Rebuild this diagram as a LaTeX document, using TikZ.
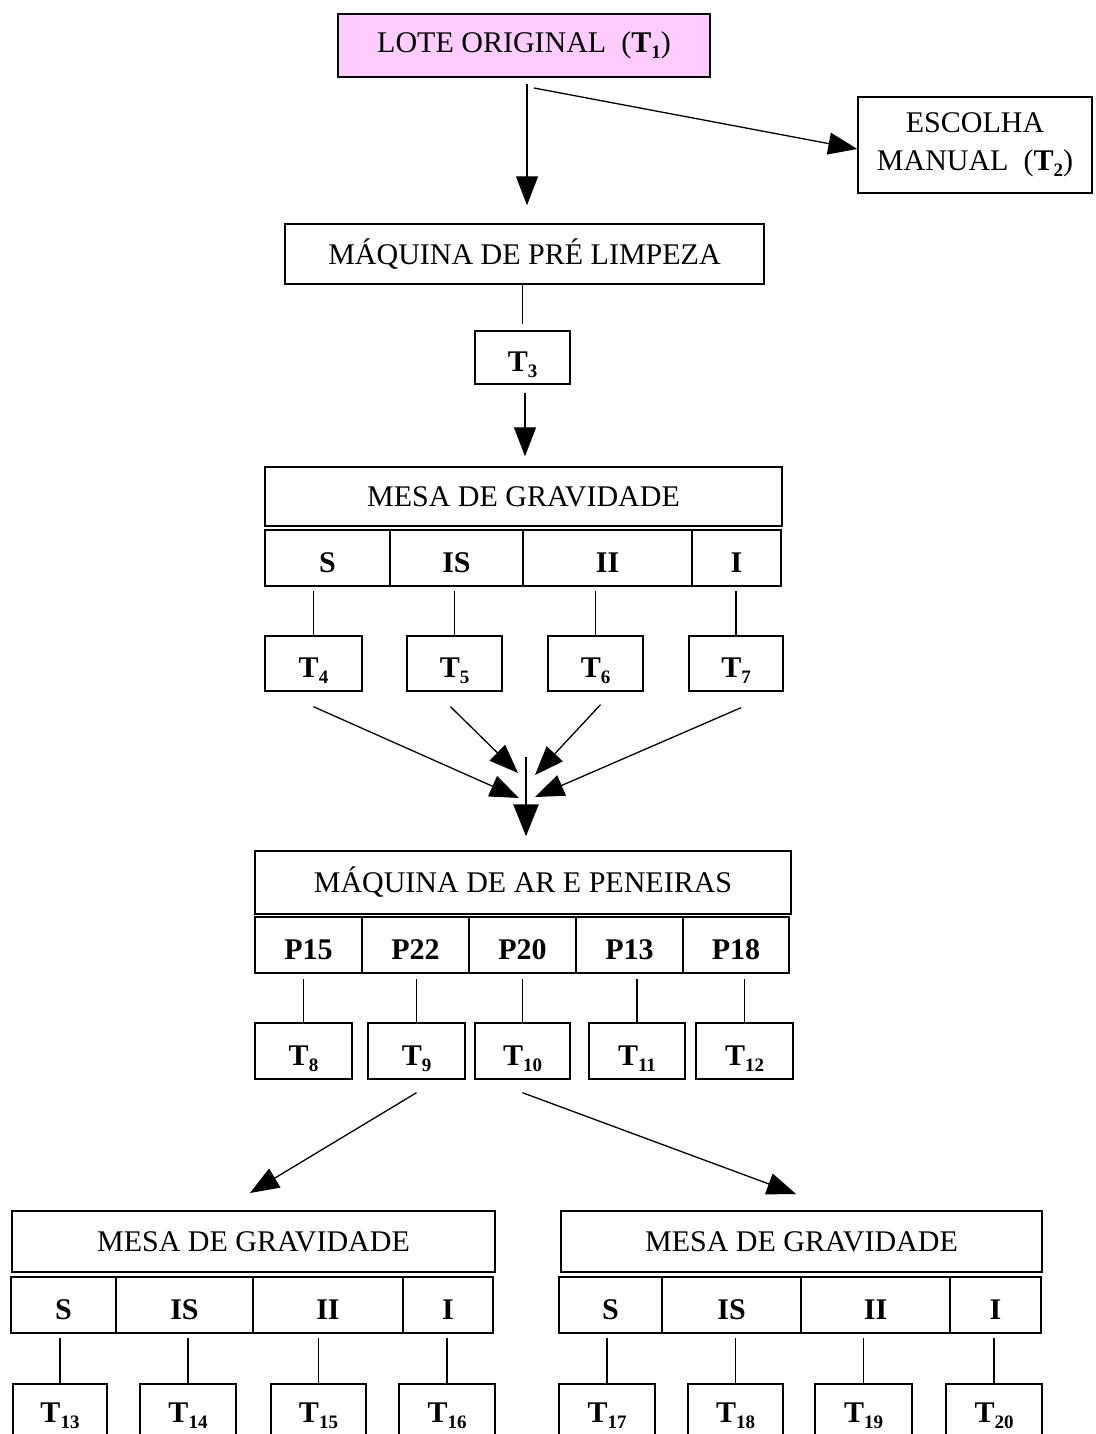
\documentclass[tikz,border=0pt]{standalone}
\usepackage{fontspec}
\setmainfont{Liberation Serif}
\usetikzlibrary{arrows.meta,calc}
\definecolor{lotepink}{RGB}{255,204,255}
\newcommand{\tsub}[1]{\textbf{T}\raisebox{-0.2em}{\fontsize{19}{19}\selectfont\textbf{#1}}}
\newcommand{\bx}[7][box]{\node[#1, minimum width={#4-#2}, minimum height={#5-#3}] (#7) at ({(#2+#4)/2},{(#3+#5)/2}) {#6};}
\begin{document}
\begin{tikzpicture}[x=1pt,y=-1pt,
  box/.style={draw, line width=1.4pt, inner sep=0pt, align=center, font=\fontsize{30}{38}\selectfont},
  bbox/.style={box, font=\fontsize{30}{38}\selectfont\bfseries, text height=28pt, text depth=0pt},
  lowbox/.style={box, font=\fontsize{30}{38}\selectfont\bfseries, text height=20pt, text depth=0pt},
  pinkbox/.style={box, fill=lotepink},
  link/.style={line width=1.1pt},
  arr/.style={line width=1.3pt, -{Triangle[length=29pt,width=22pt]}},
  bigarr/.style={line width=2.6pt, -{Triangle[length=32pt,width=25pt]}},
]
\useasboundingbox (0,0) rectangle (1095,1434);
\clip (0,0) rectangle (1095,1434);

% top
\bx[pinkbox]{338}{14}{710}{77}{LOTE ORIGINAL\ \ (\tsub{1})}{lote}
\bx{858}{97}{1092}{193}{ESCOLHA\\MANUAL\ \ (\tsub{2})}{esc}
\bx{285}{224}{764}{284}{MÁQUINA DE PRÉ LIMPEZA}{pre}
\bx[bbox]{475}{331}{570}{384}{\tsub{3}}{t3}

% first gravity table
\bx{265}{467}{782}{526}{MESA DE GRAVIDADE}{mesa}
\bx[bbox]{265}{530}{390}{586}{S}{s}
\bx[bbox]{390}{530}{523}{586}{IS}{is}
\bx[bbox]{523}{530}{692}{586}{II}{ii}
\bx[bbox]{692}{530}{781}{586}{I}{i}
\bx[bbox]{265}{636}{362}{691}{\tsub{4}}{t4}
\bx[bbox]{407}{636}{502}{691}{\tsub{5}}{t5}
\bx[bbox]{548}{636}{643}{691}{\tsub{6}}{t6}
\bx[bbox]{689}{636}{783}{691}{\tsub{7}}{t7}

% air and sieve machine
\bx{255}{851}{791}{914}{MÁQUINA DE AR E PENEIRAS}{ar}
\bx[bbox]{255}{917}{362}{973}{P15}{p15}
\bx[bbox]{362}{917}{469}{973}{P22}{p22}
\bx[bbox]{469}{917}{576}{973}{P20}{p20}
\bx[bbox]{576}{917}{683}{973}{P13}{p13}
\bx[bbox]{683}{917}{789}{973}{P18}{p18}
\bx[bbox]{255}{1023}{352}{1079}{\tsub{8}}{t8}
\bx[bbox]{368}{1023}{465}{1079}{\tsub{9}}{t9}
\bx[bbox]{475}{1023}{570}{1079}{\tsub{10}}{t10}
\bx[bbox]{589}{1023}{685}{1079}{\tsub{11}}{t11}
\bx[bbox]{696}{1023}{793}{1079}{\tsub{12}}{t12}

% bottom left gravity table
\bx{12}{1211}{495}{1272}{MESA DE GRAVIDADE}{mesaL}
\bx[bbox]{11}{1277}{116}{1333}{S}{sL}
\bx[bbox]{116}{1277}{253}{1333}{IS}{isL}
\bx[bbox]{253}{1277}{403}{1333}{II}{iiL}
\bx[bbox]{403}{1277}{493}{1333}{I}{iL}
\bx[lowbox]{13}{1384}{107}{1440}{\tsub{13}}{t13}
\bx[lowbox]{140}{1384}{236}{1440}{\tsub{14}}{t14}
\bx[lowbox]{271}{1384}{366}{1440}{\tsub{15}}{t15}
\bx[lowbox]{399}{1384}{495}{1440}{\tsub{16}}{t16}

% bottom right gravity table
\bx{561}{1211}{1042}{1272}{MESA DE GRAVIDADE}{mesaR}
\bx[bbox]{559}{1277}{662}{1333}{S}{sR}
\bx[bbox]{662}{1277}{801}{1333}{IS}{isR}
\bx[bbox]{801}{1277}{950}{1333}{II}{iiR}
\bx[bbox]{950}{1277}{1041}{1333}{I}{iR}
\bx[lowbox]{559}{1384}{655}{1440}{\tsub{17}}{t17}
\bx[lowbox]{688}{1384}{783}{1440}{\tsub{18}}{t18}
\bx[lowbox]{815}{1384}{912}{1440}{\tsub{19}}{t19}
\bx[lowbox]{946}{1384}{1042}{1440}{\tsub{20}}{t20}

% connectors at the top
\coordinate (split) at (534,88);
\draw[arr] ([yshift=-6pt]lote.south -| 527,0) -- ([yshift=18pt]pre.north -| 527,0);
\draw[arr] (split) -- (esc.west |- 0,149);
\draw[link] (pre.south -| t3.north) -- ([yshift=6pt]t3.north);
\draw[arr] ([yshift=-8pt]t3.south -| 525,0) -- ([yshift=10pt]mesa.north -| 525,0);

% sub-boxes to T boxes
\foreach \a/\b in {s/t4,is/t5,ii/t6,i/t7,sL/t13,isL/t14,iiL/t15,iL/t16,sR/t17,isR/t18,iiR/t19,iR/t20}
  \draw[link] (\b.north) -- ([yshift=-4pt]\b.north |- \a.south);
\foreach \a/\b in {p15/t8,p22/t9,p20/t10,p13/t11,p18/t12}
  \draw[link] (\b.north) -- ([yshift=-5pt]\b.north |- \a.south);

% converging arrows
\coordinate (c4) at (519,798);
\coordinate (c5) at (518,773);
\coordinate (c6) at (535,775);
\coordinate (c7) at (535,797);
\coordinate (ctop) at (526,757);
\draw[arr] ([yshift=-15pt]t4.south) -- (c4);
\draw[arr] ([yshift=-15pt,xshift=-4pt]t5.south) -- (c5);
\draw[arr] ([yshift=-13pt,xshift=5pt]t6.south) -- (c6);
\draw[arr] ([yshift=-16pt,xshift=5pt]t7.south) -- (c7);
\draw[bigarr] (ctop) -- ([yshift=14pt]ar.north -| ctop);

% split to the two gravity tables
\coordinate (tl) at (250,1193);
\coordinate (tr) at (796,1194);
\draw[arr] ([yshift=-13pt]t9.south) -- (tl);
\draw[arr] ([yshift=-13pt]t10.south) -- (tr);
\end{tikzpicture}
\end{document}
